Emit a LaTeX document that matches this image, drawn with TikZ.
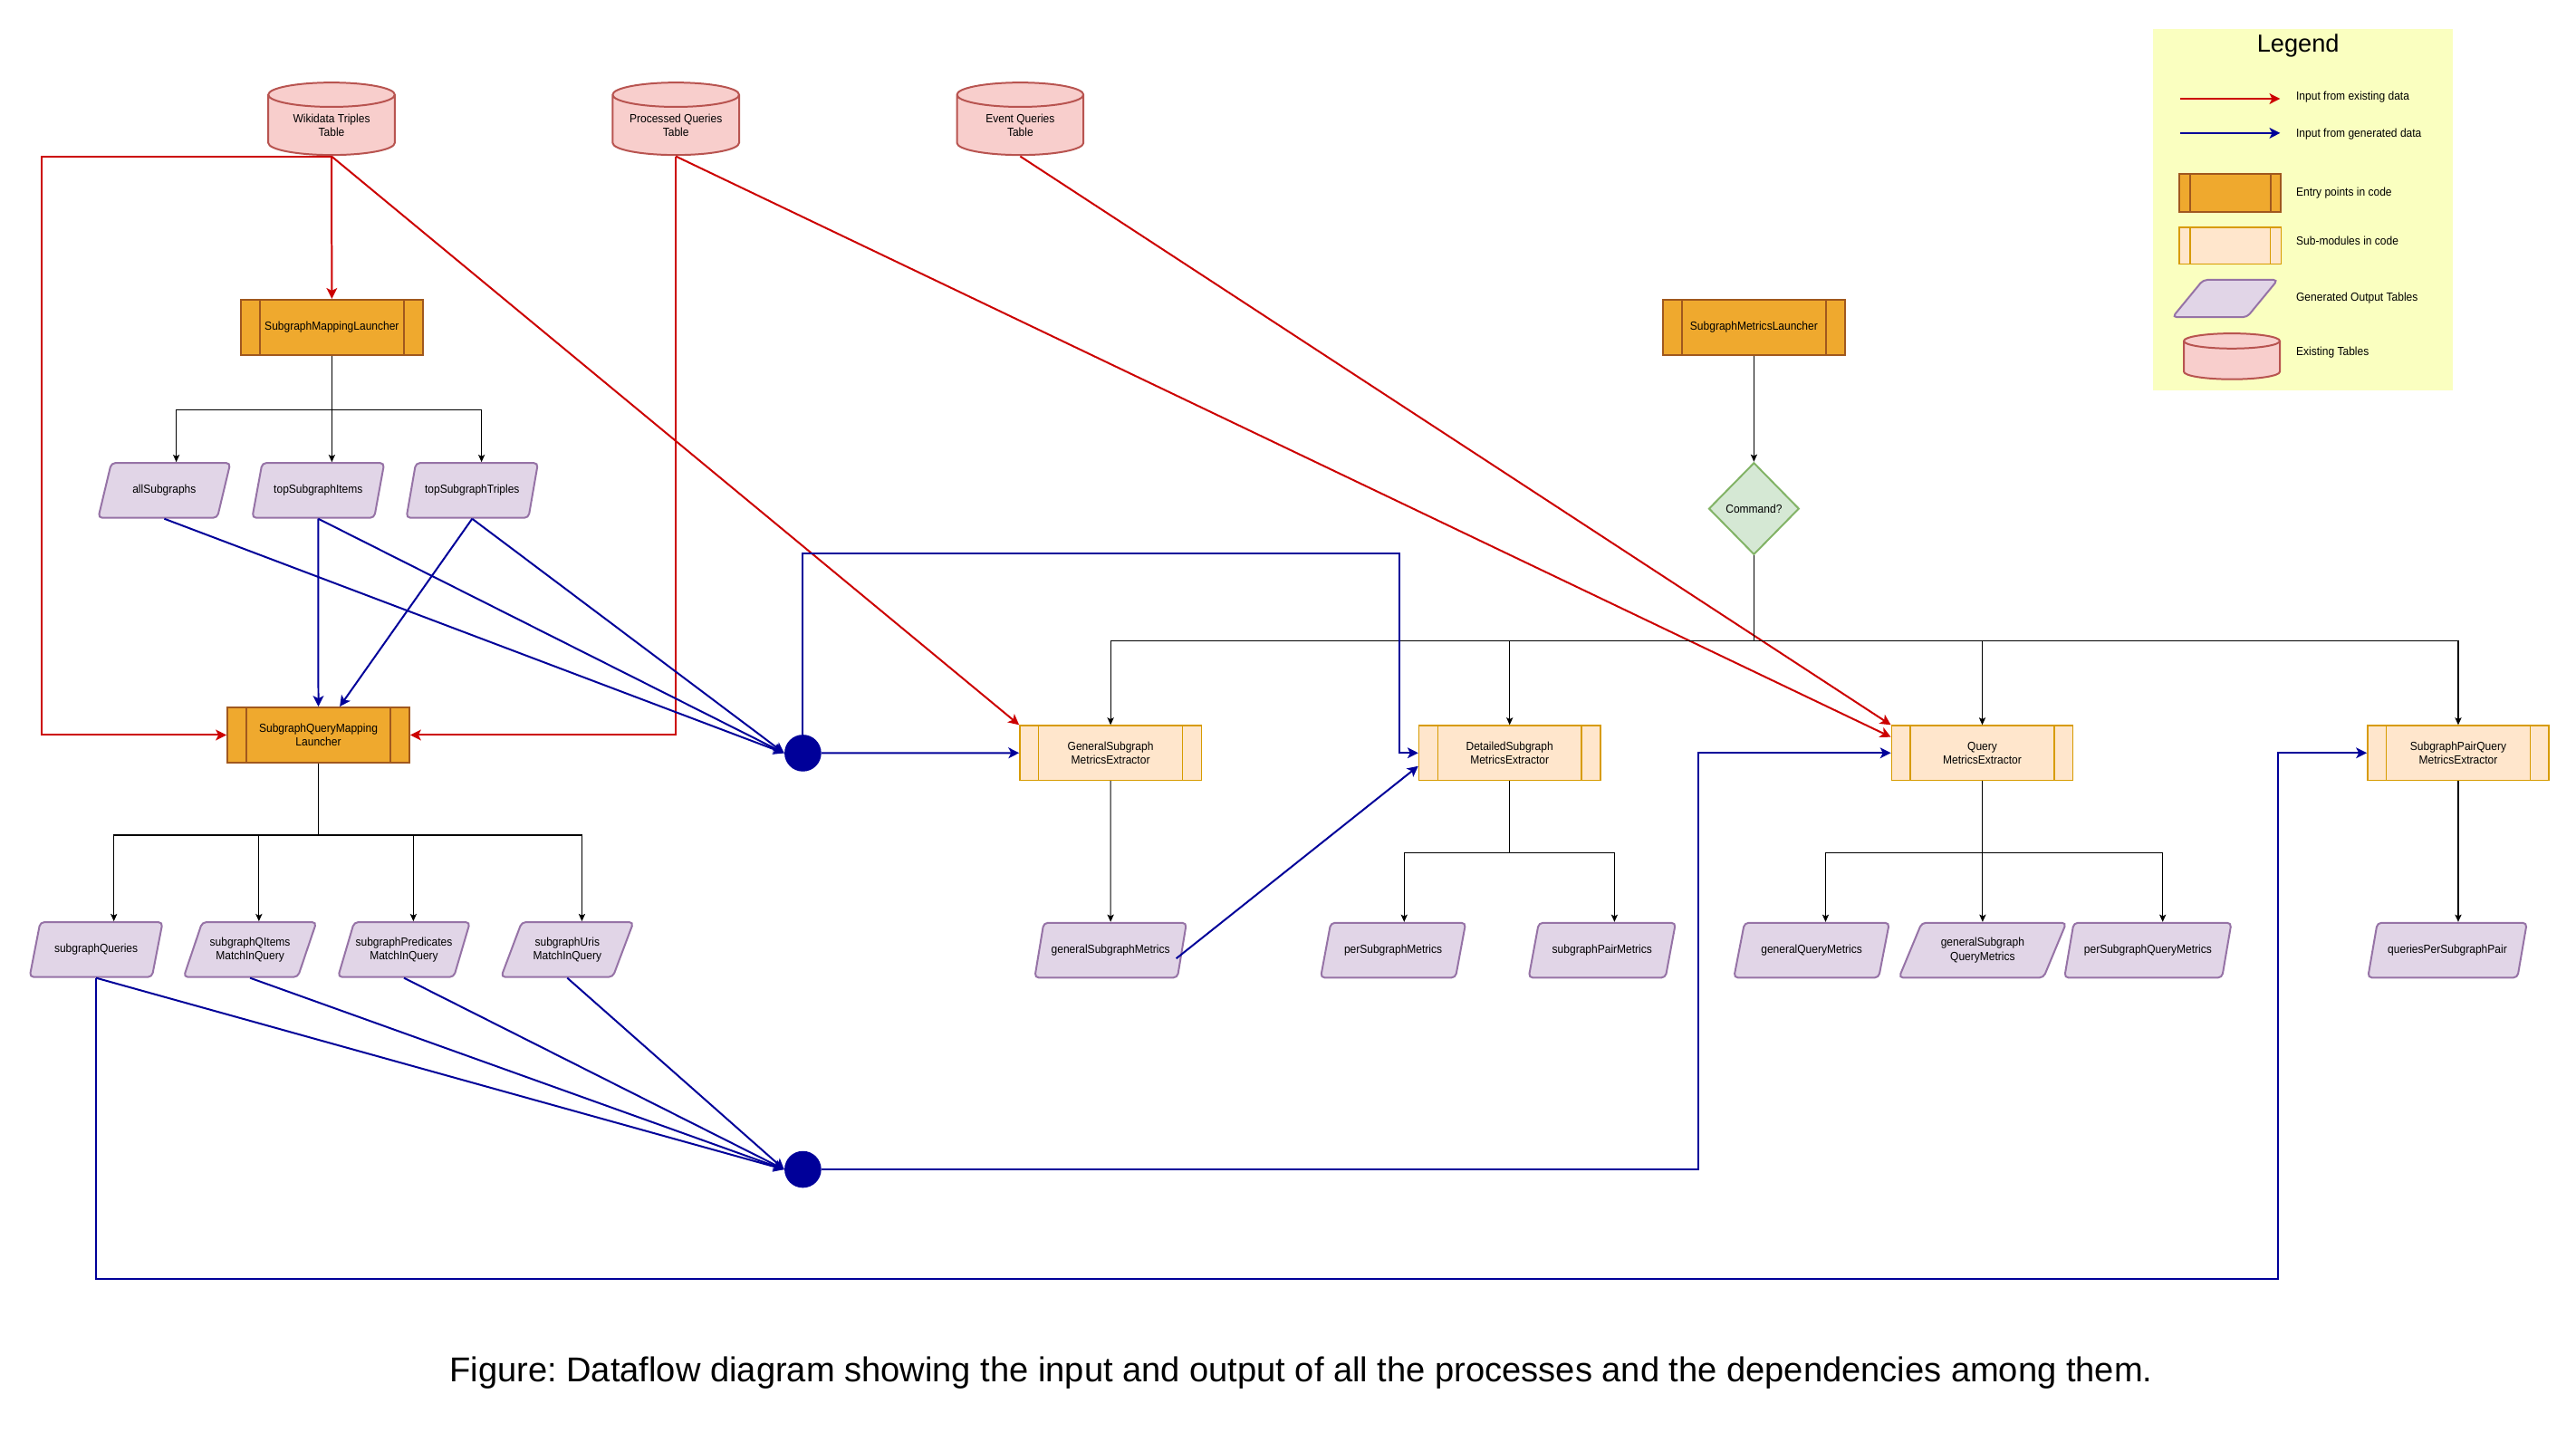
\documentclass[tikz,border=0pt]{standalone}
\usepackage{fontspec}
\setmainfont{Liberation Sans}
\newfontfamily\boxfont[FakeStretch=0.92]{Liberation Sans}
\usetikzlibrary{positioning, arrows.meta, shapes.geometric, calc}
\frenchspacing
\newcommand{\tabgap}{\rule{0pt}{13pt}}

\definecolor{entryfill}{HTML}{EFA92E}
\definecolor{entrydraw}{HTML}{A0581E}
\definecolor{subfill}{HTML}{FFE6CC}
\definecolor{subdraw}{HTML}{D79B00}
\definecolor{outfill}{HTML}{E1D5E7}
\definecolor{outdraw}{HTML}{9673A6}
\definecolor{tabfill}{HTML}{F8CECC}
\definecolor{tabdraw}{HTML}{B85450}
\definecolor{cmdfill}{HTML}{D5E8D4}
\definecolor{cmddraw}{HTML}{82B366}
\definecolor{legendbg}{HTML}{FAFFC0}
\definecolor{exred}{HTML}{CC0000}
\definecolor{genblue}{HTML}{000099}

\begin{document}
\begin{tikzpicture}[x=1pt, y=-1pt, node distance=93.7pt,
	every node/.style={font=\boxfont\fontsize{7.2}{8.4}\selectfont, align=center, inner sep=1pt},
	strips/.style={path picture={\draw[#1]
		($(path picture bounding box.north west)!0.104!(path picture bounding box.north east)$) -- ($(path picture bounding box.south west)!0.104!(path picture bounding box.south east)$)
		($(path picture bounding box.north east)!0.104!(path picture bounding box.north west)$) -- ($(path picture bounding box.south east)!0.104!(path picture bounding box.south west)$);}},
	tabshape/.style n args={3}{path picture={\draw[tabdraw, fill=tabfill, line width=1.1pt]
		([shift={(-#1,#3)}]path picture bounding box.center) -- ([shift={(-#1,-#3)}]path picture bounding box.center)
		arc[start angle=180, end angle=360, x radius=#1, y radius=#2]
		-- ([shift={(#1,#3)}]path picture bounding box.center)
		arc[start angle=0, end angle=180, x radius=#1, y radius=#2] -- cycle
		([shift={(-#1,#3)}]path picture bounding box.center)
		arc[start angle=180, end angle=360, x radius=#1, y radius=#2];}},
	entry/.style={rectangle, draw=entrydraw, fill=entryfill, line width=1.1pt, minimum width=110.8pt, minimum height=33.6pt, strips={entrydraw, line width=1.1pt}},
	submod/.style={rectangle, draw=subdraw, fill=subfill, line width=0.8pt, minimum width=110.5pt, minimum height=33.3pt, strips={subdraw, line width=0.8pt}},
	dataout/.style={trapezium, trapezium left angle=60, trapezium right angle=120, trapezium stretches=true, rounded corners=2.5pt, draw=outdraw, fill=outfill, line width=1.1pt, minimum height=33.4pt},
	dbtable/.style={rectangle, minimum width=78.2pt, minimum height=45.3pt, tabshape={38.5pt}{7.4pt}{14.65pt}},
	cmdnode/.style={diamond, draw=cmddraw, fill=cmdfill, line width=1.1pt, minimum width=55pt, minimum height=56pt, inner sep=0pt},
	junction/.style={circle, fill=genblue, minimum size=22.4pt, inner sep=0pt},
	exist/.style={draw=exred, line width=1.1pt, -{Stealth[length=6.5pt, width=6.5pt, inset=1.6pt]}},
	gen/.style={draw=genblue, line width=1.1pt, -{Stealth[length=6.5pt, width=6.5pt, inset=1.6pt]}},
	flow/.style={draw=black, line width=0.6pt, -{Stealth[length=4.5pt, width=4pt, inset=1pt]}}]
	\useasboundingbox (0,0) rectangle (1568,877.7);

	\node[dbtable] (wdt) at (201.8,72.3) {\tabgap Wikidata Triples\\Table};
	\node[dbtable] (pqt) at (411.4,72.3) {\tabgap Processed Queries\\Table};
	\node[dbtable] (eqt) at (621,72.3) {\tabgap Event Queries\\Table};

	\node[entry] (sml) at (202,199.2) {SubgraphMappingLauncher};
	\node[entry] (sqml) at (193.8,447.4) {SubgraphQueryMapping\\Launcher};
	\node[entry] (smel) at (1067.6,199.2) {SubgraphMetricsLauncher};
	\node[cmdnode] (cmd) at (1067.6,309.6) {Command?};

	\node[submod] (gsme) at (676,458.3) {GeneralSubgraph\\MetricsExtractor};
	\node[submod] (dsme) at (918.9,458.3) {DetailedSubgraph\\MetricsExtractor};
	\node[submod] (qme) at (1206.6,458.3) {Query\\MetricsExtractor};
	\node[submod] (spqme) at (1496.3,458.3) {SubgraphPairQuery\\MetricsExtractor};

	\node[junction] (c1) at (488.7,458.4) {};
	\node[junction] (c2) at (488.7,711.8) {};

	\node[dataout, minimum width=80.5pt] (as) at (100,298.5) {allSubgraphs};
	\node[dataout, minimum width=80.5pt] (tsi) [right of=as] {topSubgraphItems};
	\node[dataout, minimum width=80.5pt] (tst) [right of=tsi] {topSubgraphTriples};

	\node[dataout, minimum width=81pt] (sq) at (58.5,578) {subgraphQueries};
	\node[dataout, minimum width=81pt] (sqi) [right of=sq] {subgraphQItems\\MatchInQuery};
	\node[dataout, minimum width=81pt] (sqp) [right of=sqi] {subgraphPredicates\\MatchInQuery};
	\node[dataout, minimum width=81pt] (squ) at (345.3,578) {subgraphUris\\MatchInQuery};

	\node[dataout, minimum width=93pt] (gsm) at (676,578.4) {generalSubgraphMetrics};
	\node[dataout, minimum width=88.6pt] (psm) at (848,578.4) {perSubgraphMetrics};
	\node[dataout, minimum width=89.7pt] (spm) at (975.2,578.4) {subgraphPairMetrics};
	\node[dataout, minimum width=95.4pt] (gqm) at (1102.7,578.4) {generalQueryMetrics};
	\node[dataout, minimum width=102.4pt] (gsqm) at (1206.8,578.4) {generalSubgraph\\QueryMetrics};
	\node[dataout, minimum width=102.1pt] (psqm) at (1307.4,578.4) {perSubgraphQueryMetrics};
	\node[dataout, minimum width=97pt] (qpsp) at (1489.7,578.4) {queriesPerSubgraphPair};

	\draw[exist] (wdt.south) -- (sml.north);
	\draw[exist] (wdt.south) -- ++(-176.5,0) |- (sqml.west);
	\draw[exist] (wdt.south) -- (gsme.north west);
	\draw[exist] (pqt.south) |- (sqml.east);
	\draw[exist] (pqt.south) -- ([yshift=9.7pt]qme.west);
	\draw[exist] (eqt.south) -- (qme.north west);

	\coordinate (smlb) at ($(sml.south)+(0,33)$);
	\draw[line width=0.6pt] (sml.south) -- (smlb);
	\foreach \n/\dx in {as/7.3, tsi/8.3, tst/5.7}
		\draw[flow] (smlb) -| ([xshift=\dx pt]\n.north);

	\coordinate (sqmlb) at ($(sqml.south)+(0,43.6)$);
	\draw[line width=0.6pt] (sqml.south) -- (sqmlb);
	\foreach \n/\dx in {sq/10.8, sqi/5.4, sqp/5.7, squ/8.9}
		\draw[flow] (sqmlb) -| ([xshift=\dx pt]\n.north);

	\draw[flow] (smel) -- (cmd);
	\coordinate (cmdb) at ($(cmd.south)+(0,52.1)$);
	\draw[line width=0.6pt] (cmd.south) -- (cmdb);
	\foreach \n in {gsme, dsme, qme, spqme}
		\draw[flow] (cmdb) -| (\n.north);

	\draw[flow] (gsme) -- (gsm);
	\coordinate (dsmeb) at ($(dsme.south)+(0,43.5)$);
	\draw[line width=0.6pt] (dsme.south) -- (dsmeb);
	\foreach \n/\dx in {psm/6.7, spm/7.5}
		\draw[flow] (dsmeb) -| ([xshift=\dx pt]\n.north);
	\coordinate (qmeb) at ($(qme.south)+(0,43.5)$);
	\draw[line width=0.6pt] (qme.south) -- (qmeb);
	\foreach \n/\dx in {gqm/8.5, gsqm/0, psqm/9}
		\draw[flow] (qmeb) -| ([xshift=\dx pt]\n.north);
	\draw[flow] (spqme.south) -- (spqme.south |- qpsp.north);

	\foreach \n in {as, tsi, tst}
		\draw[gen] (\n.south) -- (c1.west);
	\draw[gen] (tsi.south) -- (sqml.north);
	\draw[gen] (tst.south) -- ([xshift=13pt]sqml.north);
	\draw[gen] (c1) -- (gsme.west);
	\draw[gen] (c1.north) -- ++(0,-110.2) -| ([xshift=-11.5pt]dsme.west) -- (dsme.west);
	\draw[gen] ([xshift=-4pt,yshift=-5pt]gsm.east) -- ([yshift=-8pt]dsme.west);

	\foreach \n in {sq, sqi, sqp, squ}
		\draw[gen] (\n.south) -- (c2.west);
	\draw[gen] (c2.east) -| ([xshift=-117.1pt]qme.west) -- (qme.west);
	\draw[gen] (sq.south) -- ++(0,183.3) -| ([xshift=-53.8pt]spqme.west) -- (spqme.west);

	\node[fill=legendbg, minimum width=182.6pt, minimum height=220pt] (legend) at (1401.7,127.5) {};
	\node[font=\normalfont\fontsize{15}{18}\selectfont] (legtitle) at (1398.8,28) {Legend};
	\coordinate (lgr1) at (1327,60.1);
	\coordinate (lgr2) at (1387.9,60.1);
	\coordinate (lgb1) at (1327,81);
	\coordinate (lgb2) at (1387.9,81);
	\draw[exist] (lgr1) -- (lgr2);
	\draw[gen] (lgb1) -- (lgb2);
	\node[entry, minimum width=61.9pt, minimum height=23pt] (lgentry) at (1357.5,117.4) {};
	\node[submod, minimum width=61.9pt, minimum height=22.3pt] (lgsub) at (1357.5,149.6) {};
	\node[dataout, trapezium left angle=55, trapezium right angle=125, minimum width=64pt, minimum height=22.7pt] (lgout) at (1354.4,181.7) {};
	\node[dbtable, minimum width=59.6pt, minimum height=29.1pt, tabshape={29.2pt}{4.6pt}{9.35pt}] (lgtab) at (1358.5,216.9) {};
	\foreach \y/\t [count=\i] in {59/Input from existing data, 81.6/Input from generated data, 117.6/Entry points in code, 146.5/Sub-modules in code, 181.2/Generated Output Tables, 214.3/Existing Tables}
		\node[anchor=west, inner sep=0pt] (lgtxt\i) at (1397.5,\y) {\t};

	\node[font=\normalfont\fontsize{21}{25}\selectfont] (caption) at (792,835.6) {Figure: Dataflow diagram showing the input and output of all the processes and the dependencies among them.};
\end{tikzpicture}
\end{document}
